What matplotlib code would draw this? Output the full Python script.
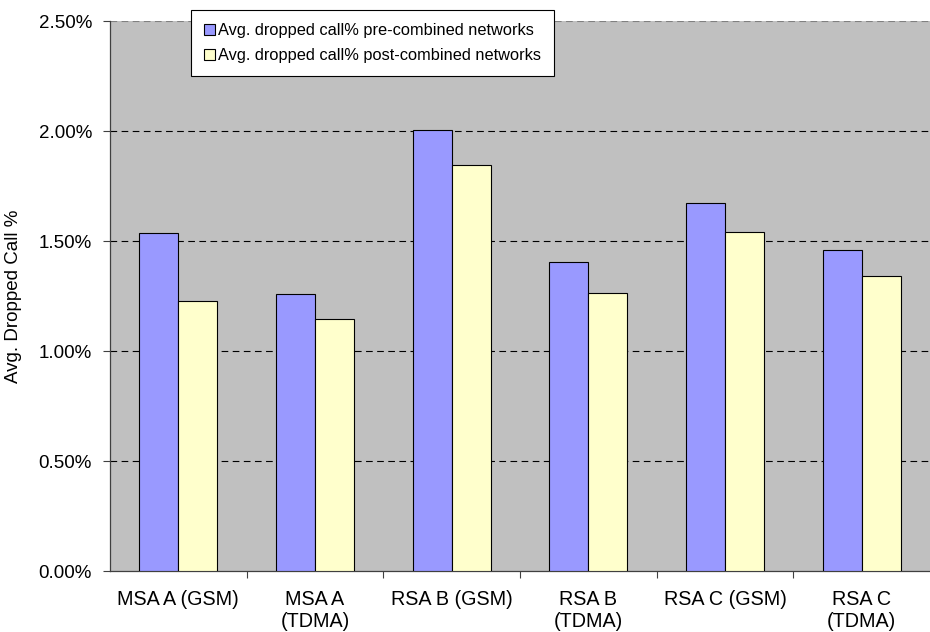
import matplotlib
matplotlib.use("Agg")
import matplotlib.pyplot as plt
import numpy as np
from matplotlib.ticker import FuncFormatter, FixedLocator

plt.rcParams['font.family'] = ['Liberation Sans', 'DejaVu Sans']

categories = ["MSA A (GSM)", "MSA A\n(TDMA)", "RSA B (GSM)", "RSA B\n(TDMA)",
              "RSA C (GSM)", "RSA C\n(TDMA)"]
pre_combined = [1.535, 1.259, 2.005, 1.403, 1.674, 1.459]
post_combined = [1.229, 1.147, 1.844, 1.262, 1.539, 1.341]
series_labels = ["Avg. dropped call% pre-combined networks",
                 "Avg. dropped call% post-combined networks"]
y_ticks = [0.0, 0.5, 1.0, 1.5, 2.0, 2.5]

W, H = 930, 632
fig = plt.figure(figsize=(W / 100, H / 100), dpi=100)
ax = fig.add_axes([110 / W, 1 - 571 / H, 820 / W, 550 / H])
ax.set_facecolor("#C0C0C0")

x = np.arange(len(categories))
bw = 1 / 3.5
b1 = ax.bar(x - bw / 2, pre_combined, width=bw, color="#9999FF",
            edgecolor="black", linewidth=0.8, label=series_labels[0], zorder=3)
b2 = ax.bar(x + bw / 2, post_combined, width=bw, color="#FFFFCC",
            edgecolor="black", linewidth=0.8, label=series_labels[1], zorder=3)

ax.set_xlim(-0.5, len(categories) - 0.5)
ax.set_ylim(0, 2.5)

ax.set_yticks(y_ticks)
ax.yaxis.set_major_formatter(FuncFormatter(lambda v, p: f"{v:.2f}%"))
for yv in y_ticks[1:-1]:
    ax.axhline(yv, color="black", linewidth=0.8, dashes=(6, 4), zorder=1)
ax.axhline(2.5, color="#808080", linewidth=0.8, dashes=(6, 4), zorder=1)

ax.set_xticks(x)
ax.set_xticklabels(categories, fontsize=14.2, linespacing=1.2)
ax.tick_params(axis="x", which="major", length=0, pad=14)
ax.xaxis.set_minor_locator(FixedLocator(np.arange(0.5, len(categories) - 0.5, 1.0)))
ax.tick_params(axis="x", which="minor", length=5, width=0.8, color="#404040")
ax.tick_params(axis="y", length=5, width=0.8, color="#404040", labelsize=13.5, pad=8)

for side in ("top", "right"):
    ax.spines[side].set_visible(False)
for side in ("left", "bottom"):
    ax.spines[side].set_color("#404040")
    ax.spines[side].set_linewidth(0.9)

ax.set_ylabel("Avg. Dropped Call %", fontsize=13.5, labelpad=8)
ax.yaxis.set_label_coords(-(110 - 22) / 820, 0.5)

leg = fig.legend(handles=[b1, b2], loc="upper left",
                 bbox_to_anchor=(191 / W, 1 - 10 / H), borderaxespad=0,
                 fontsize=11.8, frameon=True, fancybox=False,
                 handlelength=0.65, handleheight=0.65, handletextpad=0.2,
                 labelspacing=0.62, borderpad=0.8)
leg.get_frame().set_edgecolor("black")
leg.get_frame().set_linewidth(0.8)
leg.get_frame().set_facecolor("white")
leg.get_frame().set_alpha(1)

fig.savefig("out.png", dpi=100)
